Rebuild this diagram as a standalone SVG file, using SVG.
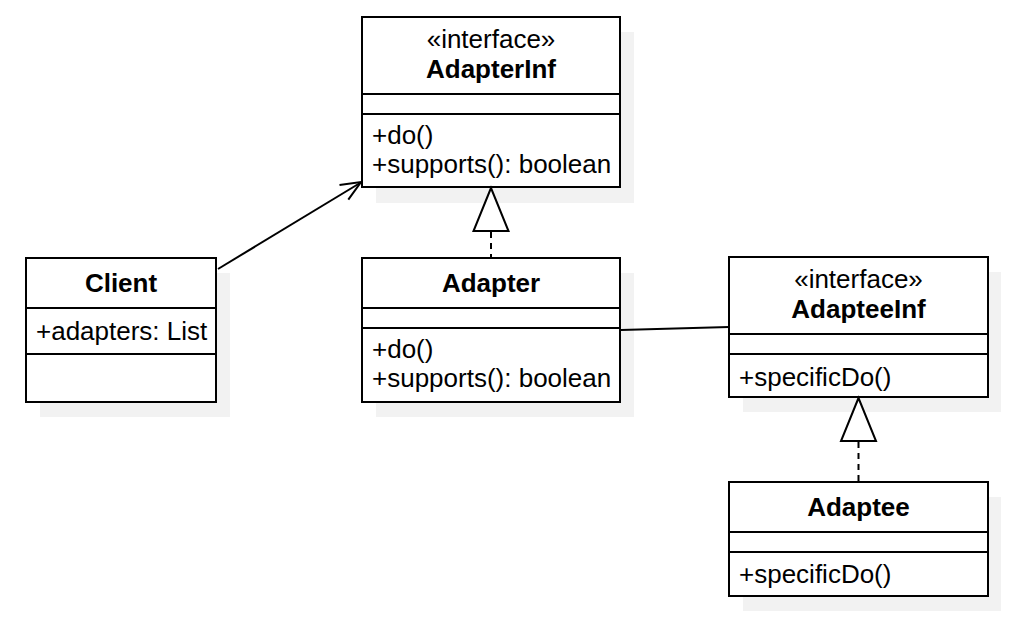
<svg xmlns="http://www.w3.org/2000/svg" width="1016" height="619" viewBox="0 0 1016 619">
<style>
.shadow{fill:#f2f2f2;stroke:none}
.box{fill:#ffffff;stroke:#000000;stroke-width:2}
.div{stroke:#000000;stroke-width:2;fill:none}
.t{font-family:"Liberation Sans",Arial,sans-serif;font-size:26px;fill:#000000}
.title{font-weight:bold;text-anchor:middle}
.st{text-anchor:middle}
.edge{stroke:#000000;stroke-width:2;fill:none}
.dash{stroke-dasharray:6 5}
.tri{fill:#ffffff;stroke:#000000;stroke-width:2}
</style>
<rect width="1016" height="619" fill="#ffffff"/>
<g id="shadows">
<rect class="shadow" x="376" y="32" width="258" height="171"/>
<rect class="shadow" x="40" y="273" width="190" height="144"/>
<rect class="shadow" x="376" y="273" width="258" height="144"/>
<rect class="shadow" x="743" y="272" width="258" height="140"/>
<rect class="shadow" x="743" y="497" width="258" height="114"/>
</g>
<g id="AdapterInf">
<rect class="box" x="362" y="17" width="258" height="170"/>
<line class="div" x1="362" y1="94" x2="620" y2="94"/>
<line class="div" x1="362" y1="114" x2="620" y2="114"/>
<text class="t st" x="491" y="48">«interface»</text>
<text class="t title" x="491" y="78">AdapterInf</text>
<text class="t" x="372" y="144">+do()</text>
<text class="t" x="372" y="173">+supports(): boolean</text>
</g>
<g id="Client">
<rect class="box" x="26" y="258" width="190" height="144"/>
<line class="div" x1="26" y1="308" x2="216" y2="308"/>
<line class="div" x1="26" y1="354" x2="216" y2="354"/>
<text class="t title" x="121" y="292">Client</text>
<text class="t" x="36" y="340">+adapters: List</text>
</g>
<g id="Adapter">
<rect class="box" x="362" y="258" width="258" height="144"/>
<line class="div" x1="362" y1="308" x2="620" y2="308"/>
<line class="div" x1="362" y1="328" x2="620" y2="328"/>
<text class="t title" x="491" y="292">Adapter</text>
<text class="t" x="372" y="358">+do()</text>
<text class="t" x="372" y="387">+supports(): boolean</text>
</g>
<g id="AdapteeInf">
<rect class="box" x="729" y="257" width="259" height="140"/>
<line class="div" x1="729" y1="334" x2="988" y2="334"/>
<line class="div" x1="729" y1="354" x2="988" y2="354"/>
<text class="t st" x="858.5" y="288">«interface»</text>
<text class="t title" x="858.5" y="318">AdapteeInf</text>
<text class="t" x="739" y="386">+specificDo()</text>
</g>
<g id="Adaptee">
<rect class="box" x="729" y="482" width="259" height="114"/>
<line class="div" x1="729" y1="532" x2="988" y2="532"/>
<line class="div" x1="729" y1="552" x2="988" y2="552"/>
<text class="t title" x="858.5" y="516">Adaptee</text>
<text class="t" x="739" y="583">+specificDo()</text>
</g>
<g id="connectors">
<line class="edge" x1="218" y1="269" x2="360" y2="183"/>
<polyline class="edge" points="339.5,185 361,182 348.3,199.7"/>
<line class="edge dash" x1="491" y1="232" x2="491" y2="258"/>
<polygon class="tri" points="491,188 473.5,231 508.5,231"/>
<line class="edge" x1="621" y1="330" x2="729" y2="327"/>
<line class="edge dash" x1="858.5" y1="442" x2="858.5" y2="482"/>
<polygon class="tri" points="858.5,398 841,441 876,441"/>
</g>
</svg>
